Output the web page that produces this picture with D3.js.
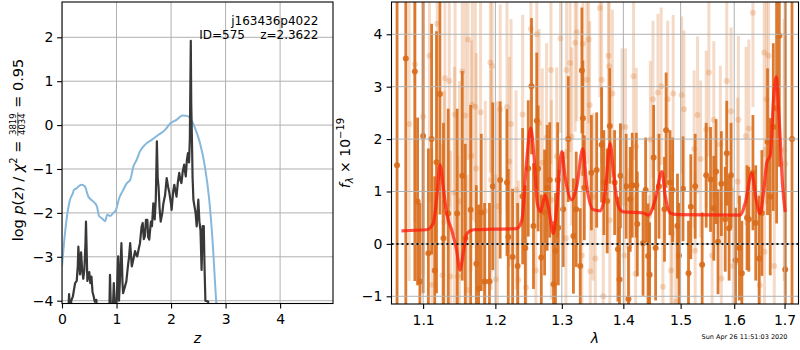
<!DOCTYPE html>
<html>
<head>
<meta charset="utf-8">
<script src="https://cdn.jsdelivr.net/npm/d3@7"></script>
<style>
body { margin: 0; background: #fff; }
svg { font-family: "DejaVu Sans", sans-serif; }
</style>
</head>
<body>
<svg id="fig" width="800" height="350"></svg>
<script>
// ---- left panel: chi2 curve (blue) and log p(z) (black)
var chi2Z = [0,0.055,0.10,0.147,0.2,0.22,0.27,0.3,0.36,0.42,0.48,0.57,0.64,0.68,0.73,0.79,0.83,0.88,0.94,0.99,
    1.05,1.11,1.19,1.25,1.31,1.37,1.43,1.52,1.65,1.77,1.89,1.98,2.10,2.21,2.29,2.35,2.44,2.53,2.62,2.70,2.76,2.83,2.9];
var chi2Val = [-3.22,-2.46,-2.0,-1.70,-1.55,-1.47,-1.44,-1.40,-1.36,-1.40,-1.62,-1.74,-1.85,-2.07,-2.12,-2.19,-2.04,-2.07,-2.00,-1.93,
    -1.66,-1.51,-1.32,-1.25,-0.94,-0.79,-0.60,-0.45,-0.33,-0.22,-0.11,0.03,0.12,0.22,0.21,0.16,-0.07,-0.41,-0.94,-1.70,-2.61,-4.05,-5.0];

var pzZ = [0.10,0.13,0.15,0.17,0.20,0.24,0.27,0.29,0.30,0.32,0.33,0.35,0.37,0.39,0.41,0.43,0.44,0.455,0.465,0.48,
    0.50,0.52,0.54,0.56,0.58,0.60,0.63,0.65,0.75,0.85,0.87,0.88,0.895,0.91,0.935,0.95,0.965,0.98,1.00,1.03,
    1.045,1.06,1.09,1.11,1.12,1.15,1.18,1.21,1.23,1.25,1.28,1.31,1.34,1.36,1.38,1.41,1.43,1.46,1.48,1.50,
    1.52,1.54,1.565,1.58,1.60,1.63,1.65,1.675,1.70,1.72,1.74,1.755,1.77,1.79,1.81,1.84,1.86,1.89,1.92,1.945,
    1.97,2.00,2.01,2.04,2.06,2.08,2.10,2.125,2.15,2.17,2.19,2.215,2.24,2.255,2.27,2.29,2.31,2.33,2.345,2.362,
    2.37,2.38,2.395,2.41,2.43,2.45,2.47,2.49,2.50,2.52,2.54,2.56,2.58,2.60,2.615,2.63,2.68,2.70,2.8];
var pzVal = [-4.6,-3.85,-4.3,-4.0,-3.9,-3.6,-3.55,-3.2,-2.77,-3.2,-3.4,-2.9,-3.3,-3.5,-3.3,-2.7,-2.2,-3.0,-3.55,-3.45,
    -3.35,-3.6,-3.45,-3.8,-3.9,-4.02,-3.98,-4.6,-5,-4.8,-4.1,-3.41,-4.1,-4.5,-4.1,-3.6,-4.05,-4.4,-4.1,-2.99,
    -4.0,-3.6,-2.69,-3.6,-3.83,-3.7,-3.56,-3.2,-3.0,-2.69,-3.22,-3.05,-2.87,-2.95,-2.99,-2.8,-2.69,-2.31,-2.23,-2.6,
    -2.53,-2.16,-2.16,-2.55,-2.61,-2.2,-2.3,-1.78,-2.15,-1.7,-0.37,-1.2,-1.40,-1.9,-2.2,-2.0,-1.78,-1.6,-1.21,-1.4,
    -1.55,-1.8,-1.93,-1.5,-1.36,-1.5,-1.63,-1.3,-1.09,-1.25,-1.32,-1.05,-0.90,-1.05,-1.17,-0.8,-0.64,-0.85,-0.3,1.92,
    0.5,-0.11,-1.2,-1.70,-1.85,-2.0,-2.31,-1.9,-1.7,-2.2,-2.4,-3.3,-2.3,-2.3,-3.3,-4.0,-4.02,-4.8,-6];

var zTicks = [0, 1, 2, 3, 4];
var logpTicks = [-4, -3, -2, -1, 0, 1, 2];

// ---- right panel: spectrum
var darkLam = [1.066,1.0773,1.0891,1.0927,1.0957,1.100,1.107,1.1113,1.1155,1.1179,
    1.1225,1.1273,1.1338,1.146,1.1531,1.1573,1.1648,1.1728,1.176,1.1798,
    1.1845,1.1915,1.1963,1.207,1.2169,1.2188,1.2252,1.2326,1.2401,1.2441,
    1.2485,1.2534,1.2564,1.2614,1.2634,1.2683,1.2733,1.2772,1.2812,1.2871,
    1.2901,1.2935,1.2945,1.3021,1.3102,1.3183,1.3227,1.3292,1.3318,1.3334,
    1.3357,1.3471,1.3557,1.3638,1.3675,1.373,1.3773,1.3854,1.3909,1.3935,
    1.3951,1.4047,1.4087,1.4116,1.4151,1.422,1.4237,1.4336,1.4381,1.4423,
    1.445,1.452,1.4555,1.4614,1.4711,1.474,1.4809,1.4856,1.4943,1.4971,
    1.5043,1.5143,1.5185,1.5265,1.5394,1.5469,1.555,1.5611,1.5654,1.5691,
    1.5754,1.5828,1.5857,1.5902,1.5939,1.6026,1.6101,1.6148,1.6249,1.6284,
    1.6365,1.642,1.6487,1.6542,1.6655,1.671,1.6771,1.6838,1.6893,1.7014,1.7153];
var darkFlux = [1.5,3.54,3.29,0.81,-0.72,2.06,-0.18,2.0,-0.51,1.56,
    2.86,0.11,0.58,0.58,1.30,0.11,0.65,-0.38,-0.85,0.60,
    -0.72,-0.72,1.10,1.22,1.17,0.13,-0.25,-0.42,0.91,-0.08,
    1.44,3.01,0.34,2.35,1.44,-0.26,0.60,1.07,1.22,-0.77,
    -0.13,1.22,0.31,0.66,2.0,0.15,0.66,-0.42,3.31,2.40,
    1.07,1.36,1.41,1.89,1.17,0.82,2.25,1.17,-0.10,-0.68,
    1.30,1.10,-1.05,0.85,1.12,1.12,0.38,0.01,1.03,-0.23,
    -0.59,1.65,-0.08,1.10,0.66,2.17,1.17,1.03,0.34,-0.22,
    1.05,-0.56,0.71,1.10,-0.40,1.31,1.23,0.68,1.38,0.04,
    1.15,0.47,1.73,0.30,1.31,-0.31,-0.08,-0.56,0.50,0.47,
    1.36,0.40,-0.28,0.59,1.95,0.90,2.23,2.59,3.97,-0.49,2.0];
var darkErr = [6,5,4,1.6,1.5,3,2,2.2,1.8,2.5,
    2.3,2.2,2,2,2,1.8,2,1.5,1.6,1.5,
    1.5,1.5,1.6,1.5,1.4,1.3,1.3,1.2,1.3,1.2,
    1.3,1.3,1.2,1.3,1.2,1.2,1.2,1.2,1.1,1.2,
    1.1,1.1,1.1,1.1,1.2,1.1,1.1,1.1,1.2,1.1,
    1.0,1.1,1.1,1.1,1.0,1.0,1.1,1.0,1.0,1.0,
    1.0,1.0,1.0,1.0,1.0,1.0,1.0,1.0,1.0,1.0,
    1.0,1.0,1.0,1.0,1.0,1.1,1.0,1.0,1.0,1.0,
    1.0,1.0,1.0,1.0,1.0,1.0,1.0,1.0,1.0,1.0,
    1.0,1.0,1.0,1.0,1.0,1.0,1.0,1.0,1.0,1.0,
    1.1,1.1,1.2,1.2,1.4,1.5,1.6,2.2,2.5,6,6];

var lightLam = [1.0817,1.0891,1.100,1.1084,1.1118,1.1189,1.1259,1.1282,1.1292,1.1352,
    1.137,1.1422,1.1432,1.147,1.1493,1.1531,1.1573,1.1601,1.1611,1.1657,
    1.1671,1.1714,1.1728,1.1788,1.1855,1.1929,1.1939,1.1953,1.2006,1.207,
    1.2169,1.2203,1.2229,1.2337,1.2401,1.2451,1.2525,1.26,1.2614,1.2649,
    1.2698,1.2763,1.2831,1.292,1.2979,1.3065,1.3075,1.313,1.3156,1.3211,
    1.3237,1.3318,1.3334,1.3399,1.3427,1.3443,1.3454,1.3535,1.361,1.3638,
    1.3665,1.3751,1.3763,1.3773,1.3816,1.3979,1.4017,1.4035,1.4094,1.4173,
    1.4208,1.444,1.4463,1.4509,1.4596,1.4653,1.4683,1.4769,1.4826,1.4844,
    1.4866,1.4913,1.5019,1.5061,1.5246,1.5265,1.5309,1.5365,1.5519,1.558,
    1.5611,1.5735,1.5754,1.5857,1.5939,1.5981,1.6067,1.6081,1.6229,1.6284,
    1.6365,1.6501,1.6588,1.6595,1.6635,1.6676,1.6791,1.6994,1.7014,
    1.422,1.2303,1.2838,1.203,1.3499,1.5469];
var lightFlux = [2.29,3.43,2.43,3.59,-0.78,4.2,-0.6,0.42,3.16,3.11,
    -0.62,0.98,2.47,-0.62,0.81,3.29,2.45,-0.88,3.9,1.68,
    2.65,2.61,1.44,2.51,0.63,3.46,1.22,3.39,-0.68,2.57,
    2.61,1.57,2.29,-0.69,2.47,-0.83,4.1,-0.51,4.0,2.3,
    1.55,2.03,3.32,1.67,3.92,0.11,3.32,3.45,2.05,3.84,
    4.04,-0.22,3.82,3.13,3.9,2.65,-0.52,-0.28,4.5,3.13,
    -1.0,3.59,3.39,0.45,2.87,2.23,-0.22,2.23,-0.06,3.2,
    -0.57,-0.57,1.99,2.76,2.89,3.01,-0.82,2.76,-0.51,0.20,
    2.87,-1.1,2.84,2.57,1.81,-0.13,2.46,1.62,3.27,-0.22,
    2.37,1.9,-0.66,3.11,2.53,-0.42,1.19,2.37,2.06,2.2,
    4.41,-0.79,3.65,-0.15,2.76,3.59,-0.42,1.79,1.53,
    1.86,1.03,0.84,0.72,0.9,2.19];
var lightErr = [3,3,3,2.8,2.6,2.8,2.5,2.5,2.5,2.4,
    2.4,2.4,2.3,2.3,2.3,2.3,2.3,2.2,2.3,2.2,
    2.2,2.2,2.2,2.2,2.1,2.1,2.1,2.1,2.0,2.0,
    2.0,2.0,2.0,1.9,1.9,1.9,2.0,1.8,2.0,1.8,
    1.8,1.8,1.8,1.7,1.8,1.7,1.7,1.7,1.7,1.7,
    1.7,1.6,1.7,1.6,1.6,1.6,1.6,1.6,1.7,1.6,
    1.6,1.6,1.6,1.6,1.6,1.5,1.5,1.5,1.5,1.6,
    1.5,1.5,1.5,1.5,1.5,1.5,1.5,1.5,1.5,1.5,
    1.5,1.5,1.5,1.5,1.5,1.5,1.5,1.5,1.6,1.5,
    1.5,1.5,1.5,1.6,1.6,1.5,1.6,1.6,1.7,1.7,
    1.8,1.8,2.0,2.0,2.0,2.2,2.4,2.5,2.5,
    1.5,1.9,1.9,2.0,1.6,1.5];

var modelLam = [1.0717,1.1046,1.1134,1.1188,1.1225,1.127,1.1316,1.1384,1.1453,1.1499,
    1.1545,1.1593,1.1686,1.197,1.2313,1.2387,1.2462,1.2522,1.2572,1.2622,
    1.2674,1.274,1.2791,1.2868,1.2921,1.2999,1.3051,1.3157,1.3237,1.3333,
    1.3397,1.3504,1.3614,1.3696,1.3779,1.3834,1.3918,1.4002,1.4343,1.443,
    1.4547,1.4665,1.4724,1.4813,1.4933,1.6115,1.6212,1.6344,1.6429,1.6508,
    1.6574,1.6642,1.6709,1.6775,1.683,1.6897,1.6959,1.7014];
var modelFlux = [0.25,0.27,0.39,0.97,1.51,1.08,0.58,0.27,-0.12,-0.50,
    -0.18,0.19,0.27,0.28,0.29,0.44,1.60,2.21,1.67,0.77,
    0.61,0.93,0.71,0.20,0.71,1.76,1.28,0.84,1.1,1.82,
    1.1,0.65,0.63,0.97,1.92,1.35,0.71,0.61,0.59,0.55,
    0.84,1.38,0.92,0.59,0.56,0.55,0.77,1.35,0.84,0.58,
    0.97,1.56,1.69,2.75,3.19,2.26,1.13,0.61];

var lamTicks = [1.1, 1.2, 1.3, 1.4, 1.5, 1.6, 1.7];
var fluxTicks = [-1, 0, 1, 2, 3, 4];

var FONT = '"DejaVu Sans", sans-serif',
    ORANGE = '#d96c1a',
    GRID = '#b0b0b0';

var svg = d3.select('#fig');

var boxL = {l: 62, r: 333, t: 2, b: 303.5},
    boxR = {l: 391.5, r: 798.5, t: 2, b: 304};

var xz = d3.scaleLinear().domain([0, 4.97]).range([boxL.l, boxL.r]),
    yp = d3.scaleLinear().domain([-4.064, 2.804]).range([boxL.b, boxL.t]),
    xl = d3.scaleLog().domain([1.0589, 1.7288]).range([boxR.l, boxR.r]),
    yf = d3.scaleLinear().domain([-1.147, 4.616]).range([boxR.b, boxR.t]);

var defs = svg.append('defs');
function addClip(id, box) {
    defs.append('clipPath').attr('id', id).append('rect')
        .attr('x', box.l).attr('y', box.t)
        .attr('width', box.r - box.l).attr('height', box.b - box.t);
}
addClip('clipL', boxL);
addClip('clipR', boxR);

function addGrid(g, x, y, xt, yt, box) {
    g.selectAll('line.gx').data(xt).enter().append('line')
        .attr('x1', x).attr('x2', x).attr('y1', box.t).attr('y2', box.b)
        .style('stroke', GRID).style('stroke-width', 1);
    g.selectAll('line.gy').data(yt).enter().append('line')
        .attr('x1', box.l).attr('x2', box.r).attr('y1', y).attr('y2', y)
        .style('stroke', GRID).style('stroke-width', 1);
}

function addAxes(x, y, xt, yt, fx, fy, box, ypad) {
    svg.append('g').attr('transform', 'translate(0,' + box.b + ')')
        .call(d3.axisBottom(x).tickValues(xt).tickFormat(fx).tickSize(4.9).tickPadding(6).tickSizeOuter(0))
        .call(function (g) { g.select('.domain').remove(); })
        .attr('font-family', FONT).attr('font-size', 14);
    svg.append('g').attr('transform', 'translate(' + box.l + ',0)')
        .call(d3.axisLeft(y).tickValues(yt).tickFormat(fy).tickSize(4.9).tickPadding(ypad).tickSizeOuter(0))
        .call(function (g) { g.select('.domain').remove(); })
        .attr('font-family', FONT).attr('font-size', 14);
    svg.selectAll('.tick line').style('stroke-width', 1.1);
    svg.append('rect')
        .attr('x', box.l).attr('y', box.t)
        .attr('width', box.r - box.l).attr('height', box.b - box.t)
        .style('fill', 'none').style('stroke', '#000').style('stroke-width', 1.1);
}

// ---- left panel
var gL = svg.append('g').attr('clip-path', 'url(#clipL)');
addGrid(gL, xz, yp, zTicks, logpTicks, boxL);

gL.append('path')
    .datum(d3.zip(chi2Z, chi2Val))
    .attr('d', d3.line().x(function (d) { return xz(d[0]); }).y(function (d) { return yp(d[1]); })
        .curve(d3.curveMonotoneX))
    .style('fill', 'none').style('stroke', '#86b8dc').style('stroke-width', 2);

gL.append('path')
    .datum(d3.zip(pzZ, pzVal))
    .attr('d', d3.line().x(function (d) { return xz(d[0]); }).y(function (d) { return yp(d[1]); }))
    .style('fill', 'none').style('stroke', '#383838').style('stroke-width', 2.2)
    .style('stroke-linejoin', 'round');

addAxes(xz, yp, zTicks, logpTicks, d3.format('d'), d3.format('d'), boxL, 3.8);

svg.append('text')
    .attr('x', (boxL.l + boxL.r) / 2).attr('y', 343)
    .attr('text-anchor', 'middle').attr('font-size', 14).attr('font-style', 'italic')
    .text('z');

svg.append('text')
    .attr('x', 318.5).attr('y', 24.5).attr('text-anchor', 'end').attr('font-size', 12)
    .text('j163436p4022');
svg.append('text')
    .attr('x', 318.5).attr('y', 39).attr('text-anchor', 'end').attr('font-size', 12)
    .style('white-space', 'pre')
    .text('ID=575    z=2.3622');

// y label with a small fraction, laid out along the rotated axis
var gLab = svg.append('g').attr('transform', 'translate(23,150) rotate(-90)');
var tA = gLab.append('text').attr('font-size', 14.5).style('white-space', 'pre');
tA.append('tspan').text('log ');
tA.append('tspan').attr('font-style', 'italic').text('p');
tA.append('tspan').text('(');
tA.append('tspan').attr('font-style', 'italic').text('z');
tA.append('tspan').text(') / ');
tA.append('tspan').attr('font-style', 'italic').text('χ');
tA.append('tspan').attr('font-size', 10).attr('dy', -6).text('2');
tA.append('tspan').attr('dy', 6).text(' = ');
var tN = gLab.append('text').attr('font-size', 8.5).attr('text-anchor', 'middle').text('3819');
var tD = gLab.append('text').attr('font-size', 8.5).attr('text-anchor', 'middle').text('4034');
var tB = gLab.append('text').attr('font-size', 14.5).style('white-space', 'pre').text(' = 0.95');
var wA = tA.node().getComputedTextLength(),
    wF = Math.max(tN.node().getComputedTextLength(), tD.node().getComputedTextLength()) + 2,
    wB = tB.node().getComputedTextLength(),
    x0 = -(wA + wF + wB) / 2;
tA.attr('x', x0);
tN.attr('x', x0 + wA + wF / 2).attr('y', -7);
tD.attr('x', x0 + wA + wF / 2).attr('y', 1.5);
gLab.append('line')
    .attr('x1', x0 + wA).attr('x2', x0 + wA + wF).attr('y1', -5.2).attr('y2', -5.2)
    .style('stroke', '#000').style('stroke-width', 0.7);
tB.attr('x', x0 + wA + wF);

// ---- right panel
var gR = svg.append('g').attr('clip-path', 'url(#clipR)');

function addErrors(g, lam, flux, err, opacity, width, r) {
    var idx = d3.range(lam.length);
    g.append('g').selectAll('line').data(idx).enter().append('line')
        .attr('x1', function (i) { return xl(lam[i]); })
        .attr('x2', function (i) { return xl(lam[i]); })
        .attr('y1', function (i) { return yf(flux[i] - err[i]); })
        .attr('y2', function (i) { return yf(flux[i] + err[i]); })
        .style('stroke', ORANGE).style('stroke-width', width).style('opacity', opacity);
    g.append('g').selectAll('circle').data(idx).enter().append('circle')
        .attr('cx', function (i) { return xl(lam[i]); })
        .attr('cy', function (i) { return yf(flux[i]); })
        .attr('r', r)
        .style('fill', ORANGE).style('opacity', opacity);
}
addErrors(gR, lightLam, lightFlux, lightErr, 0.24, 3, 3);
addErrors(gR, darkLam, darkFlux, darkErr, 0.9, 2.8, 3);

addGrid(gR, xl, yf, lamTicks, fluxTicks, boxR);

gR.append('path')
    .datum(d3.zip(modelLam, modelFlux))
    .attr('d', d3.line().x(function (d) { return xl(d[0]); }).y(function (d) { return yf(d[1]); })
        .curve(d3.curveMonotoneX))
    .style('fill', 'none').style('stroke', '#ff1a0a').style('stroke-width', 3.2)
    .style('opacity', 0.75);

gR.append('line')
    .attr('x1', boxR.l).attr('x2', boxR.r).attr('y1', yf(0)).attr('y2', yf(0))
    .style('stroke', '#111').style('stroke-width', 2).style('stroke-dasharray', '2,3');

addAxes(xl, yf, lamTicks, fluxTicks, d3.format('.1f'), d3.format('d'), boxR, 4.3);

svg.append('text')
    .attr('x', (boxR.l + boxR.r) / 2).attr('y', 343)
    .attr('text-anchor', 'middle').attr('font-size', 14).attr('font-style', 'italic')
    .text('λ');

var tF = svg.append('text')
    .attr('transform', 'translate(350,153) rotate(-90)')
    .attr('text-anchor', 'middle').attr('font-size', 14).style('white-space', 'pre');
tF.append('tspan').attr('font-style', 'italic').text('f');
tF.append('tspan').attr('font-style', 'italic').attr('font-size', 10).attr('dy', 3).text('λ');
tF.append('tspan').attr('dy', -3).text(' × 10');
tF.append('tspan').attr('font-size', 10).attr('dy', -6).text('−19');

svg.append('text')
    .attr('x', 787.5).attr('y', 339).attr('text-anchor', 'end').attr('font-size', 6.5)
    .text('Sun Apr 26 11:51:03 2020');
</script>
</body>
</html>
